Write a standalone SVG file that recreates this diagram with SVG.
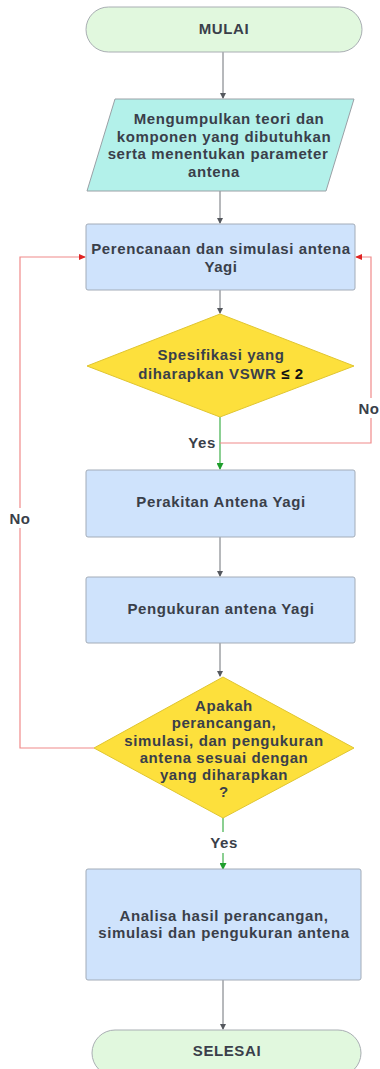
<svg xmlns="http://www.w3.org/2000/svg" width="380" height="1069" viewBox="0 0 380 1069">
<style>
text{font-family:"Liberation Sans",Arial,sans-serif;font-weight:bold;font-size:15px;letter-spacing:0.6px;fill:#3a3f4a;text-anchor:middle;dominant-baseline:central}
.term{fill:#e1f8de;stroke:#a9aeb3;stroke-width:1}
.io{fill:#b3f1ea;stroke:#9aa0a6;stroke-width:1}
.proc{fill:#cfe3fc;stroke:#a3acb8;stroke-width:1}
.dec{fill:#fde03c;stroke:#e0c530;stroke-width:1}
.c{fill:none;stroke:#6f7278;stroke-width:1}
.r{fill:none;stroke:#f08a8a;stroke-width:1.2}
.g{fill:none;stroke:#3fb04a;stroke-width:1.2}
.lbl{fill:#3a3f4a}
</style>
<defs>
<marker id="ag" markerWidth="6" markerHeight="6" refX="5" refY="3" orient="auto" markerUnits="userSpaceOnUse"><path d="M0,0 L6,3 L0,6 z" fill="#55585e"/></marker>
<marker id="ar" markerWidth="7" markerHeight="6" refX="6" refY="3" orient="auto" markerUnits="userSpaceOnUse"><path d="M0,0 L7,3 L0,6 z" fill="#e02424"/></marker>
<marker id="agr" markerWidth="7" markerHeight="7" refX="6" refY="3.5" orient="auto" markerUnits="userSpaceOnUse"><path d="M0,0 L7,3.5 L0,7 z" fill="#1f9e2c"/></marker>
</defs>
<rect width="380" height="1069" fill="#fff"/>
<g id="connectors">
<path class="c" d="M223,52 V98" marker-end="url(#ag)"/>
<path class="c" d="M220,191 V223" marker-end="url(#ag)"/>
<path class="c" d="M220,290 V313" marker-end="url(#ag)"/>
<path class="g" d="M220,417 V469" marker-end="url(#agr)"/>
<path class="r" d="M220,443 H371 V257 H356" marker-end="url(#ar)"/>
<path class="c" d="M220,537 V576" marker-end="url(#ag)"/>
<path class="c" d="M220,643 V676" marker-end="url(#ag)"/>
<path class="r" d="M94,748 H20 V257 H85" marker-end="url(#ar)"/>
<path class="g" d="M223,818 V832 M223,853 V869" marker-end="url(#agr)"/>
<path class="c" d="M223,980 V1029" marker-end="url(#ag)"/>
<rect x="9" y="508" width="22" height="20" fill="#fff"/>
<text class="lbl" x="20" y="518">No</text>
<rect x="358" y="398" width="22" height="20" fill="#fff"/>
<text class="lbl" x="369" y="408">No</text>
<text class="lbl" x="202" y="442">Yes</text>
<text class="lbl" x="224" y="842">Yes</text>
</g>
<g id="mulai">
<rect class="term" x="86" y="7" width="276" height="45" rx="22.5"/>
<text x="224" y="28">MULAI</text>
</g>
<g id="kumpulkan">
<polygon class="io" points="115,99 354,99 326,191 87,191"/>
<text x="229" y="118">Mengumpulkan teori dan</text>
<text x="224" y="136">komponen yang dibutuhkan</text>
<text x="218" y="153">serta menentukan parameter</text>
<text x="214" y="171">antena</text>
</g>
<g id="perencanaan">
<rect class="proc" x="86" y="224" width="269" height="66" rx="2"/>
<text x="221" y="248">Perencanaan dan simulasi antena</text>
<text x="221" y="266">Yagi</text>
</g>
<g id="spesifikasi">
<polygon class="dec" points="220,314 354,366 220,417 87,366"/>
<text x="221" y="354">Spesifikasi yang</text>
<text x="221" y="373">diharapkan VSWR <tspan fill="#111">≤ 2</tspan></text>
</g>
<g id="perakitan">
<rect class="proc" x="86" y="470" width="269" height="67" rx="2"/>
<text x="221" y="501">Perakitan Antena Yagi</text>
</g>
<g id="pengukuran">
<rect class="proc" x="86" y="577" width="269" height="66" rx="2"/>
<text x="221" y="608">Pengukuran antena Yagi</text>
</g>
<g id="apakah">
<polygon class="dec" points="223,677 354,748 223,818 94,748"/>
<text x="224" y="705">Apakah</text>
<text x="224" y="722">perancangan,</text>
<text x="224" y="740">simulasi, dan pengukuran</text>
<text x="224" y="757">antena sesuai dengan</text>
<text x="224" y="774">yang diharapkan</text>
<text x="224" y="791">?</text>
</g>
<g id="analisa">
<rect class="proc" x="86" y="869" width="275" height="111" rx="2"/>
<text x="224" y="915">Analisa hasil perancangan,</text>
<text x="224" y="932">simulasi dan pengukuran antena</text>
</g>
<g id="selesai">
<rect class="term" x="92" y="1030" width="269" height="46" rx="23"/>
<text x="227" y="1050">SELESAI</text>
</g>
</svg>
